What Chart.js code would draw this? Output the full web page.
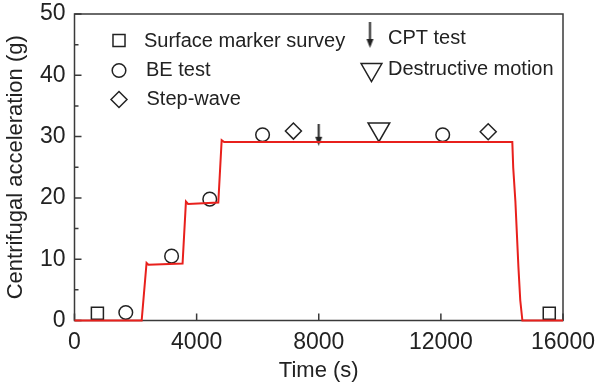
<!DOCTYPE html>
<html>
<head>
<meta charset="utf-8">
<script src="https://cdn.jsdelivr.net/npm/chart.js@4/dist/chart.umd.min.js"></script>
<style>
  html, body { margin: 0; padding: 0; background: #fff; }
  #wrap { width: 598px; height: 388px; }
</style>
</head>
<body>
<div id="wrap"><canvas id="c" width="598" height="388"></canvas></div>
<script>
// Centrifuge spin-up record: time (s) vs centrifugal acceleration (g)
const runTime  = [0, 2200, 2360, 2420, 3540, 3650, 3720, 4710, 4820, 4900, 14340, 14370, 14440, 14540, 14600, 14670, 16000];
const runAccel = [0, 0,    9.4,  9.1,  9.3,  19.4, 19.0, 19.25, 29.4, 29.1, 29.1, 24.9, 19.5, 8.7, 3.3, 0, 0];

// Test events during the flight
const surveyTime = [750, 15550];
const surveyAccel = [1.2, 1.2];
const beTime = [1680, 3180, 4430, 6160, 12060];
const beAccel = [1.3, 10.5, 19.8, 30.3, 30.3];
const stepTime = [7170, 13550];
const stepAccel = [30.9, 30.8];
const cptTime = [8000];
const cptAccel = [30.3];
const destructTime = [9970];
const destructAccel = [31.2];

// Axis ticks
const timeTicks = [0, 4000, 8000, 12000, 16000];
const accelTicks = [0, 10, 20, 30, 40, 50];
const accelMinorTicks = [5, 15, 25, 35, 45];

const FONT = "'Liberation Sans', Arial, Helvetica, sans-serif";
const INK = '#222';
const FRAME = '#3a3a3a';

const pairs = (xs, ys) => xs.map((x, i) => ({ x: x, y: ys[i] }));

// Down arrow glyph used for the CPT test marker
function makeArrow(len, headW, headL) {
  const cv = document.createElement('canvas');
  cv.width = Math.ceil(headW) + 2;
  cv.height = len;
  const g = cv.getContext('2d');
  const cx = cv.width / 2;
  g.strokeStyle = INK;
  g.fillStyle = INK;
  g.lineWidth = 2;
  g.beginPath();
  g.moveTo(cx, 0);
  g.lineTo(cx, len - headL + 1);
  g.stroke();
  g.beginPath();
  g.moveTo(cx - headW / 2, len - headL);
  g.lineTo(cx + headW / 2, len - headL);
  g.lineTo(cx, len);
  g.closePath();
  g.fill();
  return cv;
}
const arrowMark = makeArrow(22, 7, 9);
const arrowKey = makeArrow(26, 7, 9);

const markerBase = {
  showLine: false,
  borderColor: INK,
  backgroundColor: 'rgba(0,0,0,0)',
  borderWidth: 1.5,
  pointHoverRadius: 0,
  clip: false
};

// Frame, inward ticks and the in-plot key
const framePlugin = {
  id: 'frame',
  beforeDatasetsDraw(chart) {
    const { ctx, chartArea: a, scales } = chart;
    ctx.save();
    ctx.strokeStyle = FRAME;
    ctx.lineWidth = 1.5;
    ctx.strokeRect(a.left, a.top, a.right - a.left, a.bottom - a.top);
    ctx.beginPath();
    timeTicks.forEach(v => {
      const x = scales.x.getPixelForValue(v);
      ctx.moveTo(x, a.bottom);
      ctx.lineTo(x, a.bottom - 7);
    });
    accelTicks.forEach(v => {
      const y = scales.y.getPixelForValue(v);
      ctx.moveTo(a.left, y);
      ctx.lineTo(a.left + 7, y);
    });
    accelMinorTicks.forEach(v => {
      const y = scales.y.getPixelForValue(v);
      ctx.moveTo(a.left, y);
      ctx.lineTo(a.left + 4, y);
    });
    ctx.stroke();
    ctx.restore();
  },
  afterDraw(chart) {
    const { ctx } = chart;
    const draw = Chart.helpers.drawPoint;
    ctx.save();
    ctx.strokeStyle = INK;
    ctx.fillStyle = 'rgba(0,0,0,0)';
    ctx.lineWidth = 1.5;
    draw(ctx, { pointStyle: 'rect', radius: 8.5, rotation: 0, borderWidth: 1.5 }, 119, 40.5);
    draw(ctx, { pointStyle: 'circle', radius: 6.8, rotation: 0, borderWidth: 1.5 }, 119, 70.5);
    draw(ctx, { pointStyle: 'rectRot', radius: 8, rotation: 0, borderWidth: 1.5 }, 119, 99.5);
    draw(ctx, { pointStyle: 'triangle', radius: 12, rotation: 180, borderWidth: 1.5 }, 371.5, 69.5);
    ctx.drawImage(arrowKey, 370 - arrowKey.width / 2, 22);
    ctx.fillStyle = INK;
    ctx.font = '20px ' + FONT;
    ctx.textBaseline = 'middle';
    ctx.textAlign = 'left';
    ctx.fillText('Surface marker survey', 144, 41);
    ctx.fillText('BE test', 146, 70.5);
    ctx.fillText('Step-wave', 146.5, 99.5);
    ctx.fillText('CPT test', 388, 38.5);
    ctx.fillText('Destructive motion', 388, 69);
    ctx.restore();
  }
};

const plainLabel = v => String(v);

new Chart(document.getElementById('c'), {
  type: 'scatter',
  data: {
    datasets: [
      {
        data: pairs(runTime, runAccel),
        showLine: true,
        borderColor: '#e8201c',
        borderWidth: 2,
        pointRadius: 0,
        pointHoverRadius: 0,
        tension: 0,
        clip: false
      },
      Object.assign({}, markerBase, { data: pairs(surveyTime, surveyAccel), pointStyle: 'rect', pointRadius: 8.5 }),
      Object.assign({}, markerBase, { data: pairs(beTime, beAccel), pointStyle: 'circle', pointRadius: 6.8 }),
      Object.assign({}, markerBase, { data: pairs(stepTime, stepAccel), pointStyle: 'rectRot', pointRadius: 8 }),
      Object.assign({}, markerBase, { data: pairs(destructTime, destructAccel), pointStyle: 'triangle', pointRadius: 12.5, rotation: 180 }),
      Object.assign({}, markerBase, { data: pairs(cptTime, cptAccel), pointStyle: arrowMark, pointRadius: 10 })
    ]
  },
  options: {
    responsive: false,
    animation: false,
    events: [],
    layout: { padding: { top: 12, right: 35, left: 0, bottom: 0 } },
    plugins: { legend: { display: false }, tooltip: { enabled: false } },
    scales: {
      x: {
        type: 'linear',
        min: 0,
        max: 16000,
        grid: { display: false, drawTicks: false },
        border: { display: false },
        afterBuildTicks: s => { s.ticks = timeTicks.map(v => ({ value: v })); },
        ticks: { padding: 8, color: INK, font: { family: FONT, size: 23 }, maxRotation: 0, callback: plainLabel },
        title: { display: true, text: 'Time (s)', color: INK, font: { family: FONT, size: 22 }, padding: { top: 0, bottom: 4 } },
        afterFit: s => { s.height = 67.5; s.paddingLeft = 0; s.paddingRight = 0; }
      },
      y: {
        type: 'linear',
        min: 0,
        max: 50,
        grid: { display: false, drawTicks: false },
        border: { display: false },
        afterBuildTicks: s => { s.ticks = accelTicks.map(v => ({ value: v })); },
        ticks: { padding: 9, color: INK, font: { family: FONT, size: 23 }, callback: plainLabel },
        title: { display: true, text: 'Centrifugal acceleration (g)', color: INK, font: { family: FONT, size: 22 }, padding: { top: 3, bottom: 0 } },
        afterFit: s => { s.width = 74.5; s.paddingTop = 0; s.paddingBottom = 0; }
      }
    }
  },
  plugins: [framePlugin]
});
</script>
</body>
</html>
